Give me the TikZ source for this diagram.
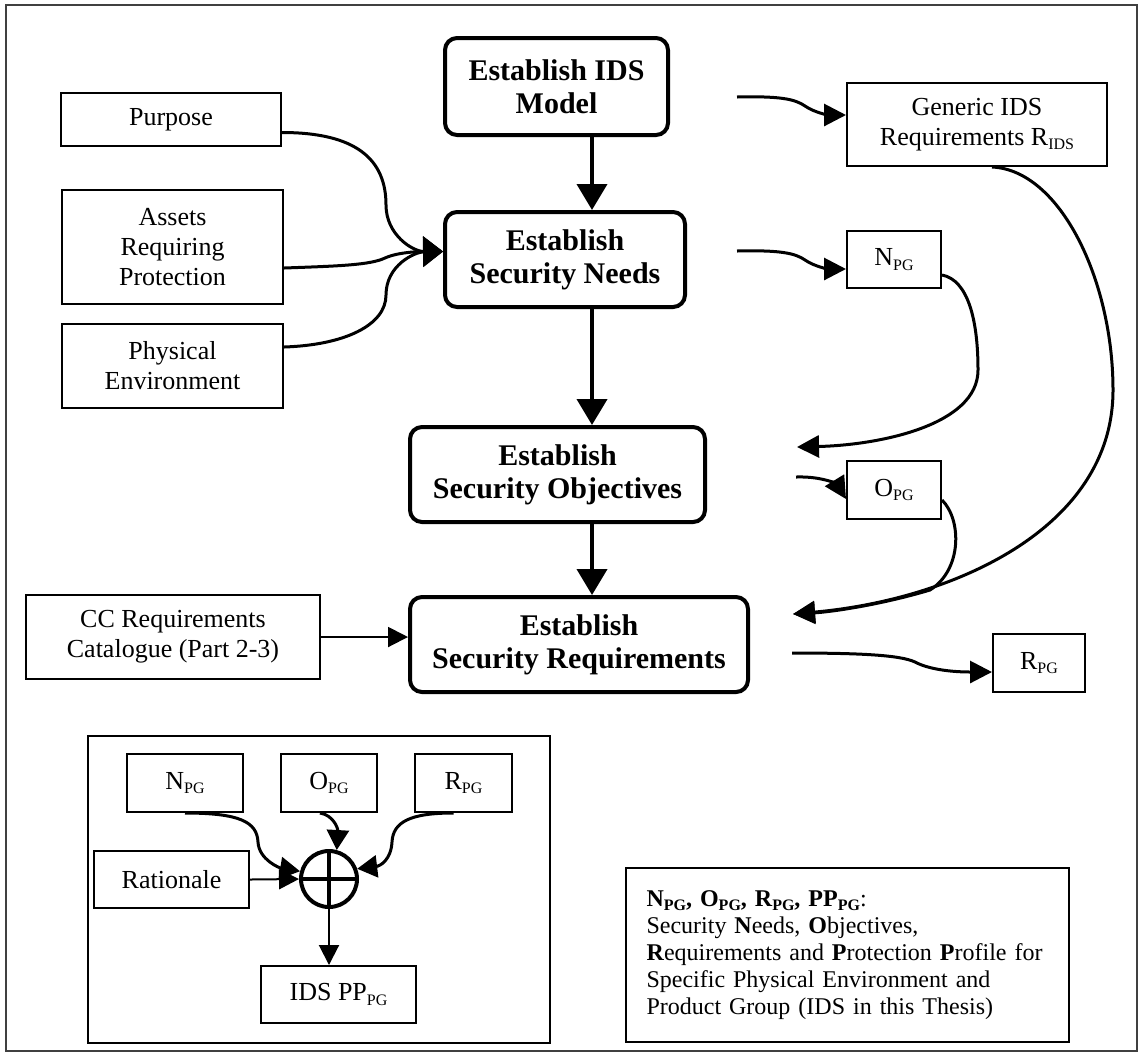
\documentclass[tikz,border=0pt]{standalone}
\usepackage{fontspec}
\setmainfont{Liberation Serif}
\usetikzlibrary{arrows.meta}

\newcommand{\lowsub}[1]{\raisebox{-0.35ex}{\fontsize{8}{9}\selectfont #1}}

\tikzset{
  boxwh/.style 2 args={minimum width=#1*0.5pt, minimum height=#2*0.5pt},
  stepbox/.style={draw, line width=2pt, rounded corners=6pt, align=center, inner sep=2pt,
    font=\bfseries\fontsize{15}{16.5}\selectfont},
  inbox/.style={draw, line width=1pt, align=center, inner sep=2pt,
    font=\fontsize{13}{15}\selectfont},
  mainflow/.style={line width=2pt, -{Triangle[length=13pt,width=15pt]}},
  feed/.style={line width=1.5pt, -{Triangle[length=10pt,width=15pt]}},
  outflow/.style={line width=1.5pt, -{Triangle[length=11pt,width=11pt]}},
  sumflow/.style={line width=1.5pt, -{Triangle[length=10pt,width=11pt]}},
  thinflow/.style={line width=1pt, -{Triangle[length=10pt,width=10pt]}},
}

\begin{document}
\begin{tikzpicture}[x=0.5pt, y=-0.5pt]
  \useasboundingbox (0,0) rectangle (1139,1056);
  \draw[line width=1pt, black!75] (6,5) rectangle (1137,1051);  % outer frame
  % --- main process column ---
  \node[stepbox, boxwh={223}{97}] (ids)   at (556.5,86.5)  {Establish IDS\\Model};
  \node[stepbox, boxwh={240}{95}] (needs) at (565,259.5)   {Establish\\Security Needs};
  \node[stepbox, boxwh={295}{95}] (objs)  at (557.5,474.5) {Establish\\Security Objectives};
  \node[stepbox, boxwh={338}{95}] (reqs)  at (579,644.5)   {Establish\\Security Requirements};
  \coordinate (col) at (592,0);
  \draw[mainflow] (ids.south -| col) -- (needs.north -| col);
  \draw[mainflow] (needs.south -| col) -- (objs.north -| col);
  \draw[mainflow] (objs.south -| col) -- (reqs.north -| col);
  % --- inputs on the left ---
  \node[inbox, boxwh={220}{53}]  (purpose) at (171,119.5) {Purpose};
  \node[inbox, boxwh={221}{114}] (assets)  at (172.5,247) {Assets\\Requiring\\Protection};
  \node[inbox, boxwh={221}{84}]  (physenv) at (172.5,366) {Physical\\Environment};
  \node[inbox, boxwh={294}{84}]  (ccat)    at (173,637)   {CC Requirements\\Catalogue (Part 2-3)};
  \coordinate (feedin) at ([yshift=4pt]needs.west);
  \draw[feed] ([yshift=-6.5pt]purpose.east) .. controls +(75,0) and +(0,-45) .. (386,205)
    .. controls +(0,30) and +(-30,0) .. (feedin);
  \draw[feed] ([yshift=-10.5pt]assets.east) .. controls (340,266) and (370,265) .. (385,258)
    .. controls (398,252) and (420,251.5) .. (feedin);
  \draw[feed] ([yshift=9.5pt]physenv.east) .. controls (345,345) and (386,325) .. (386,295)
    .. controls (386,265) and (415,252) .. (feedin);
  \draw[thinflow] (ccat.east) -- (ccat.east -| reqs.west);
  % --- outputs on the right ---
  \node[inbox, boxwh={260}{83}] (generic) at (977,124.5) {Generic IDS\\Requirements R\lowsub{IDS}};
  \node[inbox, boxwh={94}{57}]  (npg)     at (894,259.5) {N\lowsub{PG}};
  \node[inbox, boxwh={94}{58}]  (opg)     at (894,490)   {O\lowsub{PG}};
  \node[inbox, boxwh={92}{58}]  (rpg)     at (1039,663)  {R\lowsub{PG}};
  \coordinate (idsout)   at (737,97);
  \coordinate (needsout) at (737,251);
  \coordinate (objsout)  at (796,477);
  \coordinate (reqsout)  at (792,653);
  \coordinate (objsin)   at (797,447);
  \coordinate (reqsin)   at (793,614);
  \draw[outflow] (idsout) .. controls (780,96) and (795,99) .. (805,106)
    .. controls (815,113) and (830,115) .. ([yshift=4.75pt]generic.west);
  \draw[outflow] (needsout) .. controls (780,250) and (795,253) .. (805,260)
    .. controls (815,267) and (830,269) .. ([yshift=-4.75pt]npg.west);
  \draw[outflow] (objsout) .. controls (825,476) and (838,486) .. ([yshift=-4.5pt]opg.west);
  \draw[outflow] (reqsout) .. controls (860,653) and (900,655) .. (915,662)
    .. controls (928,669) and (950,672) .. ([yshift=-4.5pt]rpg.west);
  % feedback into the next steps
  \draw[outflow] ([yshift=-7.75pt]npg.east) .. controls (968,280) and (978,320) .. (978,370)
    .. controls (978,425) and (880,445) .. (objsin);
  \draw[outflow] ([xshift=7.5pt]generic.south) .. controls (1060,170) and (1113,280) .. (1113,390)
    .. controls (1113,530) and (950,600) .. (reqsin);
  \draw[outflow] ([yshift=-5pt]opg.east) .. controls (962,520) and (962,570) .. (930,590)
    .. controls (880,605) and (830,612) .. (reqsin);
  % --- protection profile composition ---
  \draw[line width=1pt] (88,736) rectangle (550,1043);
  \node[inbox, boxwh={116}{58}] (nsum)      at (185,783)     {N\lowsub{PG}};
  \node[inbox, boxwh={96}{58}]  (osum)      at (329,783)     {O\lowsub{PG}};
  \node[inbox, boxwh={97}{58}]  (rsum)      at (463.5,783)   {R\lowsub{PG}};
  \node[inbox, boxwh={155}{57}] (rationale) at (171.5,879.5) {Rationale};
  \node[inbox, boxwh={155}{57}] (idspp)     at (338.5,994.5) {IDS PP\lowsub{PG}};
  \node[circle, draw, line width=2pt, minimum size=28pt, inner sep=0pt] (plus) at (329,879) {};
  \draw[line width=2pt] (plus.north) -- (plus.south) (plus.west) -- (plus.east);
  \draw[sumflow] (nsum.south) .. controls (240,813) and (257,822) .. (258,842)
    .. controls (259,860) and (280,868) .. (plus.165);
  \draw[sumflow] ([xshift=-4.5pt]osum.south) .. controls (333,815) and (338,828) .. (plus.75);
  \draw[sumflow] ([xshift=-5pt]rsum.south) .. controls (410,813) and (393,822) .. (392,842)
    .. controls (391,860) and (380,866) .. (plus.20);
  \draw[thinflow] (rationale.east) -- (plus.west);
  \draw[thinflow] (plus.south) -- (plus.south |- idspp.north);
  % --- legend ---
  \node[draw, line width=1pt, boxwh={443}{174}, text width=201pt, align=left, inner xsep=10pt,
    font=\fontsize{12}{13.5}\selectfont] (legend) at (847.5,955)
    {\textbf{N\lowsub{PG}, O\lowsub{PG}, R\lowsub{PG}, PP\lowsub{PG}}:\\
     Security \textbf{N}eeds, \textbf{O}bjectives,\\
     \textbf{R}equirements and \textbf{P}rotection \textbf{P}rofile for\\
     Specific Physical Environment and\\
     Product Group (IDS in this Thesis)};
\end{tikzpicture}
\end{document}
